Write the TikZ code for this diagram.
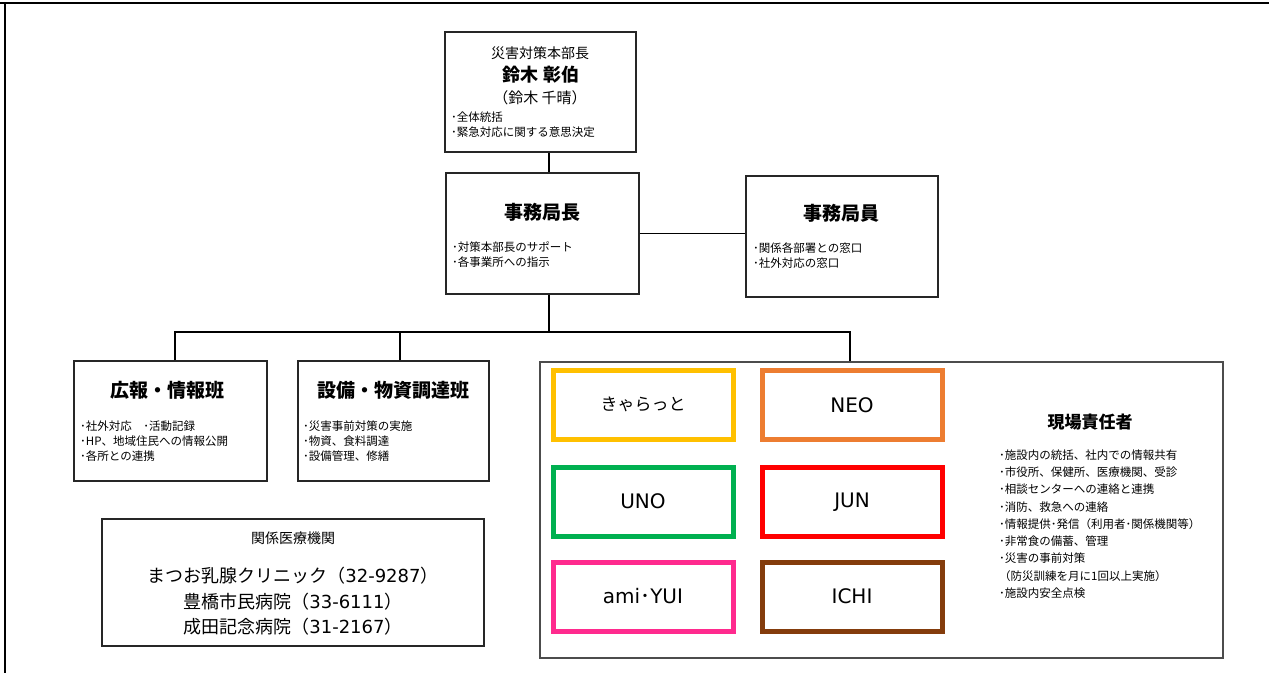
\documentclass[tikz,border=0pt]{standalone}
\usepackage{fontspec}
\setmainfont{Noto Sans CJK JP}
\newfontfamily\latinf{DejaVu Sans}
\newfontfamily\cjkf{Noto Sans CJK JP}
\newcommand\latn[1]{{\latinf #1}}
\definecolor{cyellow}{HTML}{FFC000}
\definecolor{corange}{HTML}{ED7D31}
\definecolor{cgreen}{HTML}{00B050}
\definecolor{cred}{HTML}{FF0000}
\definecolor{cpink}{HTML}{FF2A8E}
\definecolor{cbrown}{HTML}{843C0C}
\begin{document}
\begin{tikzpicture}[x=1pt,y=-1pt,
  box/.style={draw=black!85, line width=1.2pt, fill=white, inner sep=0pt},
  bigbox/.style={draw=black!70, line width=1.1pt, fill=white, inner sep=0pt},
  site/.style={draw=#1, line width=5pt, fill=white, inner sep=0pt, minimum width=180pt, minimum height=69pt},
  lbl/.style={inner sep=0pt, anchor=west, align=left, font=\fontsize{11.5}{15}\selectfont},
  ttl/.style={inner sep=0pt, font=\fontsize{19}{22}\bfseries\selectfont},
  sitecjk/.style={inner sep=0pt, font=\fontsize{17}{20}\selectfont},
  sitelat/.style={inner sep=0pt, font=\fontsize{20}{24}\latinf},
  conn/.style={line width=1.3pt, black}]
\useasboundingbox (0,0) rectangle (1269,673);
\fill[white] (0,0) rectangle (1269,673);
% page frame
\draw[line width=2.5pt] (0,3) -- (1269,3);
\draw[line width=2.5pt] (5,2) -- (5,673);

% coordinates for connector columns
\coordinate (spine) at (549,0);
\coordinate (kx) at (175,0);
\coordinate (sx) at (400,0);
\coordinate (gx) at (850,0);
\coordinate (bus) at (549,332);

% boxes
\node[box, minimum width=191pt, minimum height=120pt] (top) at (540.5,92) {};
\node[box, minimum width=193pt, minimum height=121pt] (jimu) at (542.5,233.5) {};
\node[box, minimum width=192pt, minimum height=121pt] (staff) at (842,236.5) {};
\node[box, minimum width=193pt, minimum height=120pt] (kouhou) at (170.5,421) {};
\node[box, minimum width=191pt, minimum height=120pt] (setsubi) at (393.5,421) {};
\node[box, minimum width=382pt, minimum height=127pt] (iryo) at (293,582.5) {};
\node[bigbox, minimum width=683pt, minimum height=296pt] (genba) at (881.5,510) {};

% connectors
\draw[conn] (top.south -| spine) -- (jimu.north -| spine);
\draw[conn] (jimu.east) -- (jimu.east -| staff.west);
\draw[conn] (jimu.south -| spine) -- (bus);
\draw[conn] (kouhou.north -| kx) |- (bus) -- (gx |- bus) -- (genba.north -| gx);
\draw[conn] (setsubi.north -| sx) -- (sx |- bus);

% top box text
\node[inner sep=0pt, font=\fontsize{14}{16}\selectfont] (t1) at (540,53) {災害対策本部長};
\node[inner sep=0pt, font=\fontsize{18}{20}\bfseries\selectfont] (t2) at (541,75) {鈴木 彰伯};
\node[inner sep=0pt, font=\fontsize{15}{18}\selectfont] (t3) at (540,98) {（鈴木 千晴）};
\node[lbl] (t4) at (451,124.5) {･全体統括\\･緊急対応に関する意思決定};

% jimu
\node[ttl] (j1) at (542,212) {事務局長};
\node[lbl] (j2) at (452,254.5) {･対策本部長のサポート\\･各事業所への指示};

% staff
\node[ttl] (s1) at (841,213) {事務局員};
\node[lbl] (s2) at (753,255.5) {･関係各部署との窓口\\･社外対応の窓口};

% kouhou
\node[ttl] (k1) at (167,390) {広報・情報班};
\node[lbl] (k2) at (80,441) {･社外対応　･活動記録\\･HP、地域住民への情報公開\\･各所との連携};

% setsubi
\node[ttl] (e1) at (393,390) {設備・物資調達班};
\node[lbl] (e2) at (303,441) {･災害事前対策の実施\\･物資、食料調達\\･設備管理、修繕};

% iryo
\node[inner sep=0pt, font=\fontsize{14}{16}\selectfont] (i1) at (293,538) {関係医療機関};
\node[inner sep=0pt, align=center, font=\fontsize{18}{25.5}\selectfont] (i2) at (293,601.5)
  {まつお乳腺クリニック（\latn{32-9287}）\\豊橋市民病院（\latn{33-6111}）\\成田記念病院（\latn{31-2167}）};

% sites
\node[site=cyellow] (kya) at (643,404.5) {};
\node[site=corange] (neo) at (852,405) {};
\node[site=cgreen] (uno) at (643,501.5) {};
\node[site=cred] (jun) at (852,502) {};
\node[site=cpink] (ami) at (643,596.5) {};
\node[site=cbrown] (ichi) at (852,596.5) {};
\node[sitecjk] (kyat) at (kya) {きゃらっと};
\node[sitelat] (neot) at (neo) {NEO};
\node[sitelat] (unot) at (uno) {UNO};
\node[sitelat] (junt) at (jun) {JUN};
\node[sitelat] (amit) at (ami) {ami{\cjkf ･}YUI};
\node[sitelat] (ichit) at (ichi) {ICHI};

% genba
\node[inner sep=0pt, font=\fontsize{17}{20}\bfseries\selectfont] (g1) at (1090,422) {現場責任者};
\node[inner sep=0pt, anchor=west, align=left, font=\fontsize{11.5}{17.25}\selectfont] (g2) at (999,524)
  {･施設内の統括、社内での情報共有\\･市役所、保健所、医療機関、受診\\･相談センターへの連絡と連携\\･消防、救急への連絡\\･情報提供･発信（利用者･関係機関等）\\･非常食の備蓄、管理\\･災害の事前対策\\（防災訓練を月に1回以上実施）\\･施設内安全点検};
\end{tikzpicture}
\end{document}
